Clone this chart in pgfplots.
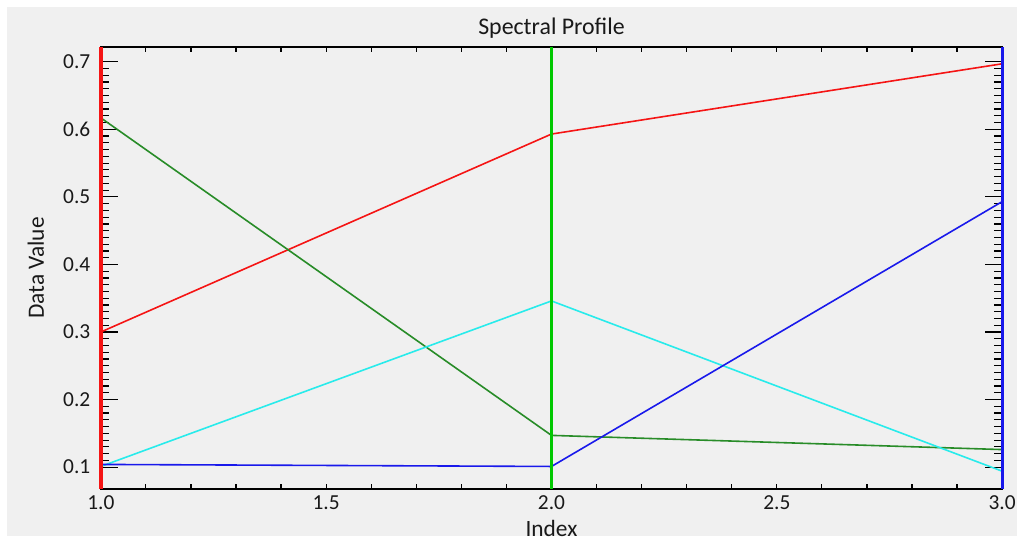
\documentclass[border=0pt]{standalone}
\usepackage{pgfplots}
\pgfplotsset{compat=1.18}
\usepackage{fontspec}
\setmainfont{Carlito}
\definecolor{bggray}{RGB}{240,240,240}
\definecolor{dgreen}{RGB}{40,140,40}
\definecolor{bgreen}{RGB}{0,200,0}
\definecolor{mycyan}{RGB}{40,235,235}
\definecolor{myblue}{RGB}{25,25,235}
\definecolor{myred}{RGB}{245,20,20}
\definecolor{txt}{RGB}{25,25,25}
\pgfplotsset{
  base/.style={
    at={(101bp,51bp)}, anchor=south west,
    scale only axis, width=903bp, height=443bp,
    xmin=1, xmax=3, ymin=0.0675, ymax=0.722,
    tick pos=both, tick align=inside,
    /pgf/number format/assume math mode=true,
    ticklabel style={font=\fontsize{21.5}{25}\selectfont, text=txt},
    axis line style={black, line width=2bp},
    every tick/.style={black, line width=1.2bp},
    clip=false,
  }
}
\begin{document}
\begin{tikzpicture}
\fill[white] (0,0) rectangle (1019bp,541bp);
\fill[bggray] (7bp,4bp) rectangle (1019bp,534bp);
\begin{axis}[base,
  xtick={1,1.5,2,2.5,3}, minor x tick num=4,
  ytick=\empty,
  major tick length=5bp, minor tick length=5bp,
  xticklabel style={yshift=-3bp, /pgf/number format/.cd, fixed, fixed zerofill, precision=1},
  title={Spectral Profile},
  title style={font=\fontsize{24}{28}\selectfont, text=txt, at={(axis description cs:0.5,1)}, anchor=base, yshift=6bp},
  xlabel={Index},
  xlabel style={font=\fontsize{23.5}{28}\selectfont, text=txt, at={(axis description cs:0.5,0)}, anchor=base, yshift=-47bp},
  ylabel={Data Value},
  ylabel style={font=\fontsize{23.5}{28}\selectfont, text=txt, at={(axis description cs:0,0.5)}, anchor=base, yshift=57bp},
]
\end{axis}
\begin{axis}[base,
  xtick=\empty,
  ytick={0.1,0.2,0.3,0.4,0.5,0.6,0.7}, minor y tick num=9,
  major tick length=17bp, minor tick length=8bp,
  yticklabel style={xshift=-7bp, /pgf/number format/.cd, fixed, fixed zerofill, precision=1},
]
\addplot[myred, line width=1.6bp] coordinates {(1,0.300) (2,0.593) (3,0.697)};
\addplot[dgreen, line width=1.6bp] coordinates {(1,0.617) (2,0.147) (3,0.126)};
\addplot[mycyan, line width=1.6bp] coordinates {(1,0.101) (2,0.346) (3,0.094)};
\addplot[myblue, line width=1.6bp] coordinates {(1,0.104) (2,0.101) (3,0.493)};
\addplot[myred, line width=4bp] coordinates {(1,0.0675) (1,0.722)};
\addplot[bgreen, line width=3.5bp] coordinates {(2,0.0675) (2,0.722)};
\addplot[myblue, line width=3bp] coordinates {(3,0.0675) (3,0.722)};
\end{axis}
\end{tikzpicture}
\end{document}
